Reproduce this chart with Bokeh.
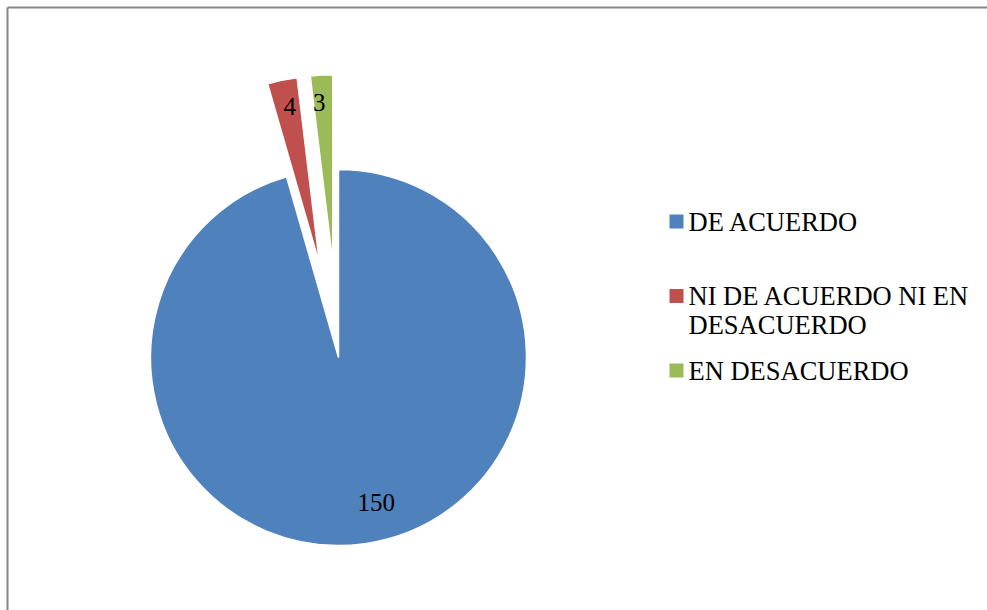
import numpy as np
from bokeh.plotting import figure
from bokeh.models import Range1d, ColumnDataSource
from bokeh.core.properties import value
from bokeh.embed import file_html
from bokeh.resources import INLINE

# ---- data ----
categories = ["DE ACUERDO", "NI DE ACUERDO NI EN DESACUERDO", "EN DESACUERDO"]
values = [150, 4, 3]
value_labels = ["150", "4", "3"]
legend_lines = [["DE ACUERDO"], ["NI DE ACUERDO NI EN", "DESACUERDO"], ["EN DESACUERDO"]]
colors = ["#4F81BD", "#C0504D", "#9BBB59"]

# ---- layout / style ----
W, H = 987, 610
CX, CY = 338, 253          # pie centre (pixel-like data units)
R = 188                    # pie radius
explode = [0, 95, 95]      # explosion distance per slice
label_r = [0.79, 0.855, 0.85]
label_dx = [17, 2, -4]
label_dy = [2, 0, 1]
FONT = "Liberation Serif"
FRAME_X, FRAME_Y = 7, H - 7

p = figure(width=W, height=H, output_backend="svg", toolbar_location=None,
           x_range=Range1d(0, W), y_range=Range1d(0, H), min_border=0)
p.axis.visible = False
p.xgrid.visible = False
p.ygrid.visible = False
p.outline_line_color = None
p.background_fill_color = "white"
p.border_fill_color = "white"

# chart area frame (left and top edges visible)
p.segment(x0=[FRAME_X, FRAME_X], y0=[-10, FRAME_Y], x1=[FRAME_X, W + 10], y1=[FRAME_Y, FRAME_Y],
          line_color="#868686", line_width=2)

vals = np.array(values, dtype=float)
frac = vals / vals.sum()
cum = np.concatenate([[0], np.cumsum(frac)]) * 2 * np.pi
a0, a1 = cum[:-1], cum[1:]
start = np.pi / 2 - a1
end = np.pi / 2 - a0
mid = np.pi / 2 - (a0 + a1) / 2
ex = np.array(explode, dtype=float)
xs = CX + ex * np.cos(mid)
ys = CY + ex * np.sin(mid)

src = ColumnDataSource(dict(x=xs, y=ys, start=start, end=end, color=colors, cat=categories))
p.wedge(x="x", y="y", radius=R, start_angle="start", end_angle="end",
        direction="anticlock", fill_color="color", line_color="white", line_width=1.5, source=src)

lr = np.array(label_r)
lx = xs + lr * R * np.cos(mid) + np.array(label_dx)
ly = ys + lr * R * np.sin(mid) + np.array(label_dy)
p.text(x=lx, y=ly, text=value_labels, text_font=value(FONT), text_font_size="25px",
       text_align="center", text_baseline="middle", text_color="black")

# legend
LX = 676
top_y = H - 221
step = 74.5
sq_y = [top_y - i * step for i in range(len(categories))]
p.rect(x=[LX] * len(categories), y=sq_y, width=14, height=14, fill_color=colors, line_color=None)
tx, ty, tt = [], [], []
for i, lines in enumerate(legend_lines):
    for j, ln in enumerate(lines):
        tx.append(LX + 12)
        ty.append(sq_y[i] + 0 - j * 29)
        tt.append(ln)
p.text(x=tx, y=ty, text=tt, text_font=value(FONT), text_font_size="26.5px",
       text_align="left", text_baseline="alphabetic", text_color="black")

open("out.html", "w").write(file_html(p, INLINE))
